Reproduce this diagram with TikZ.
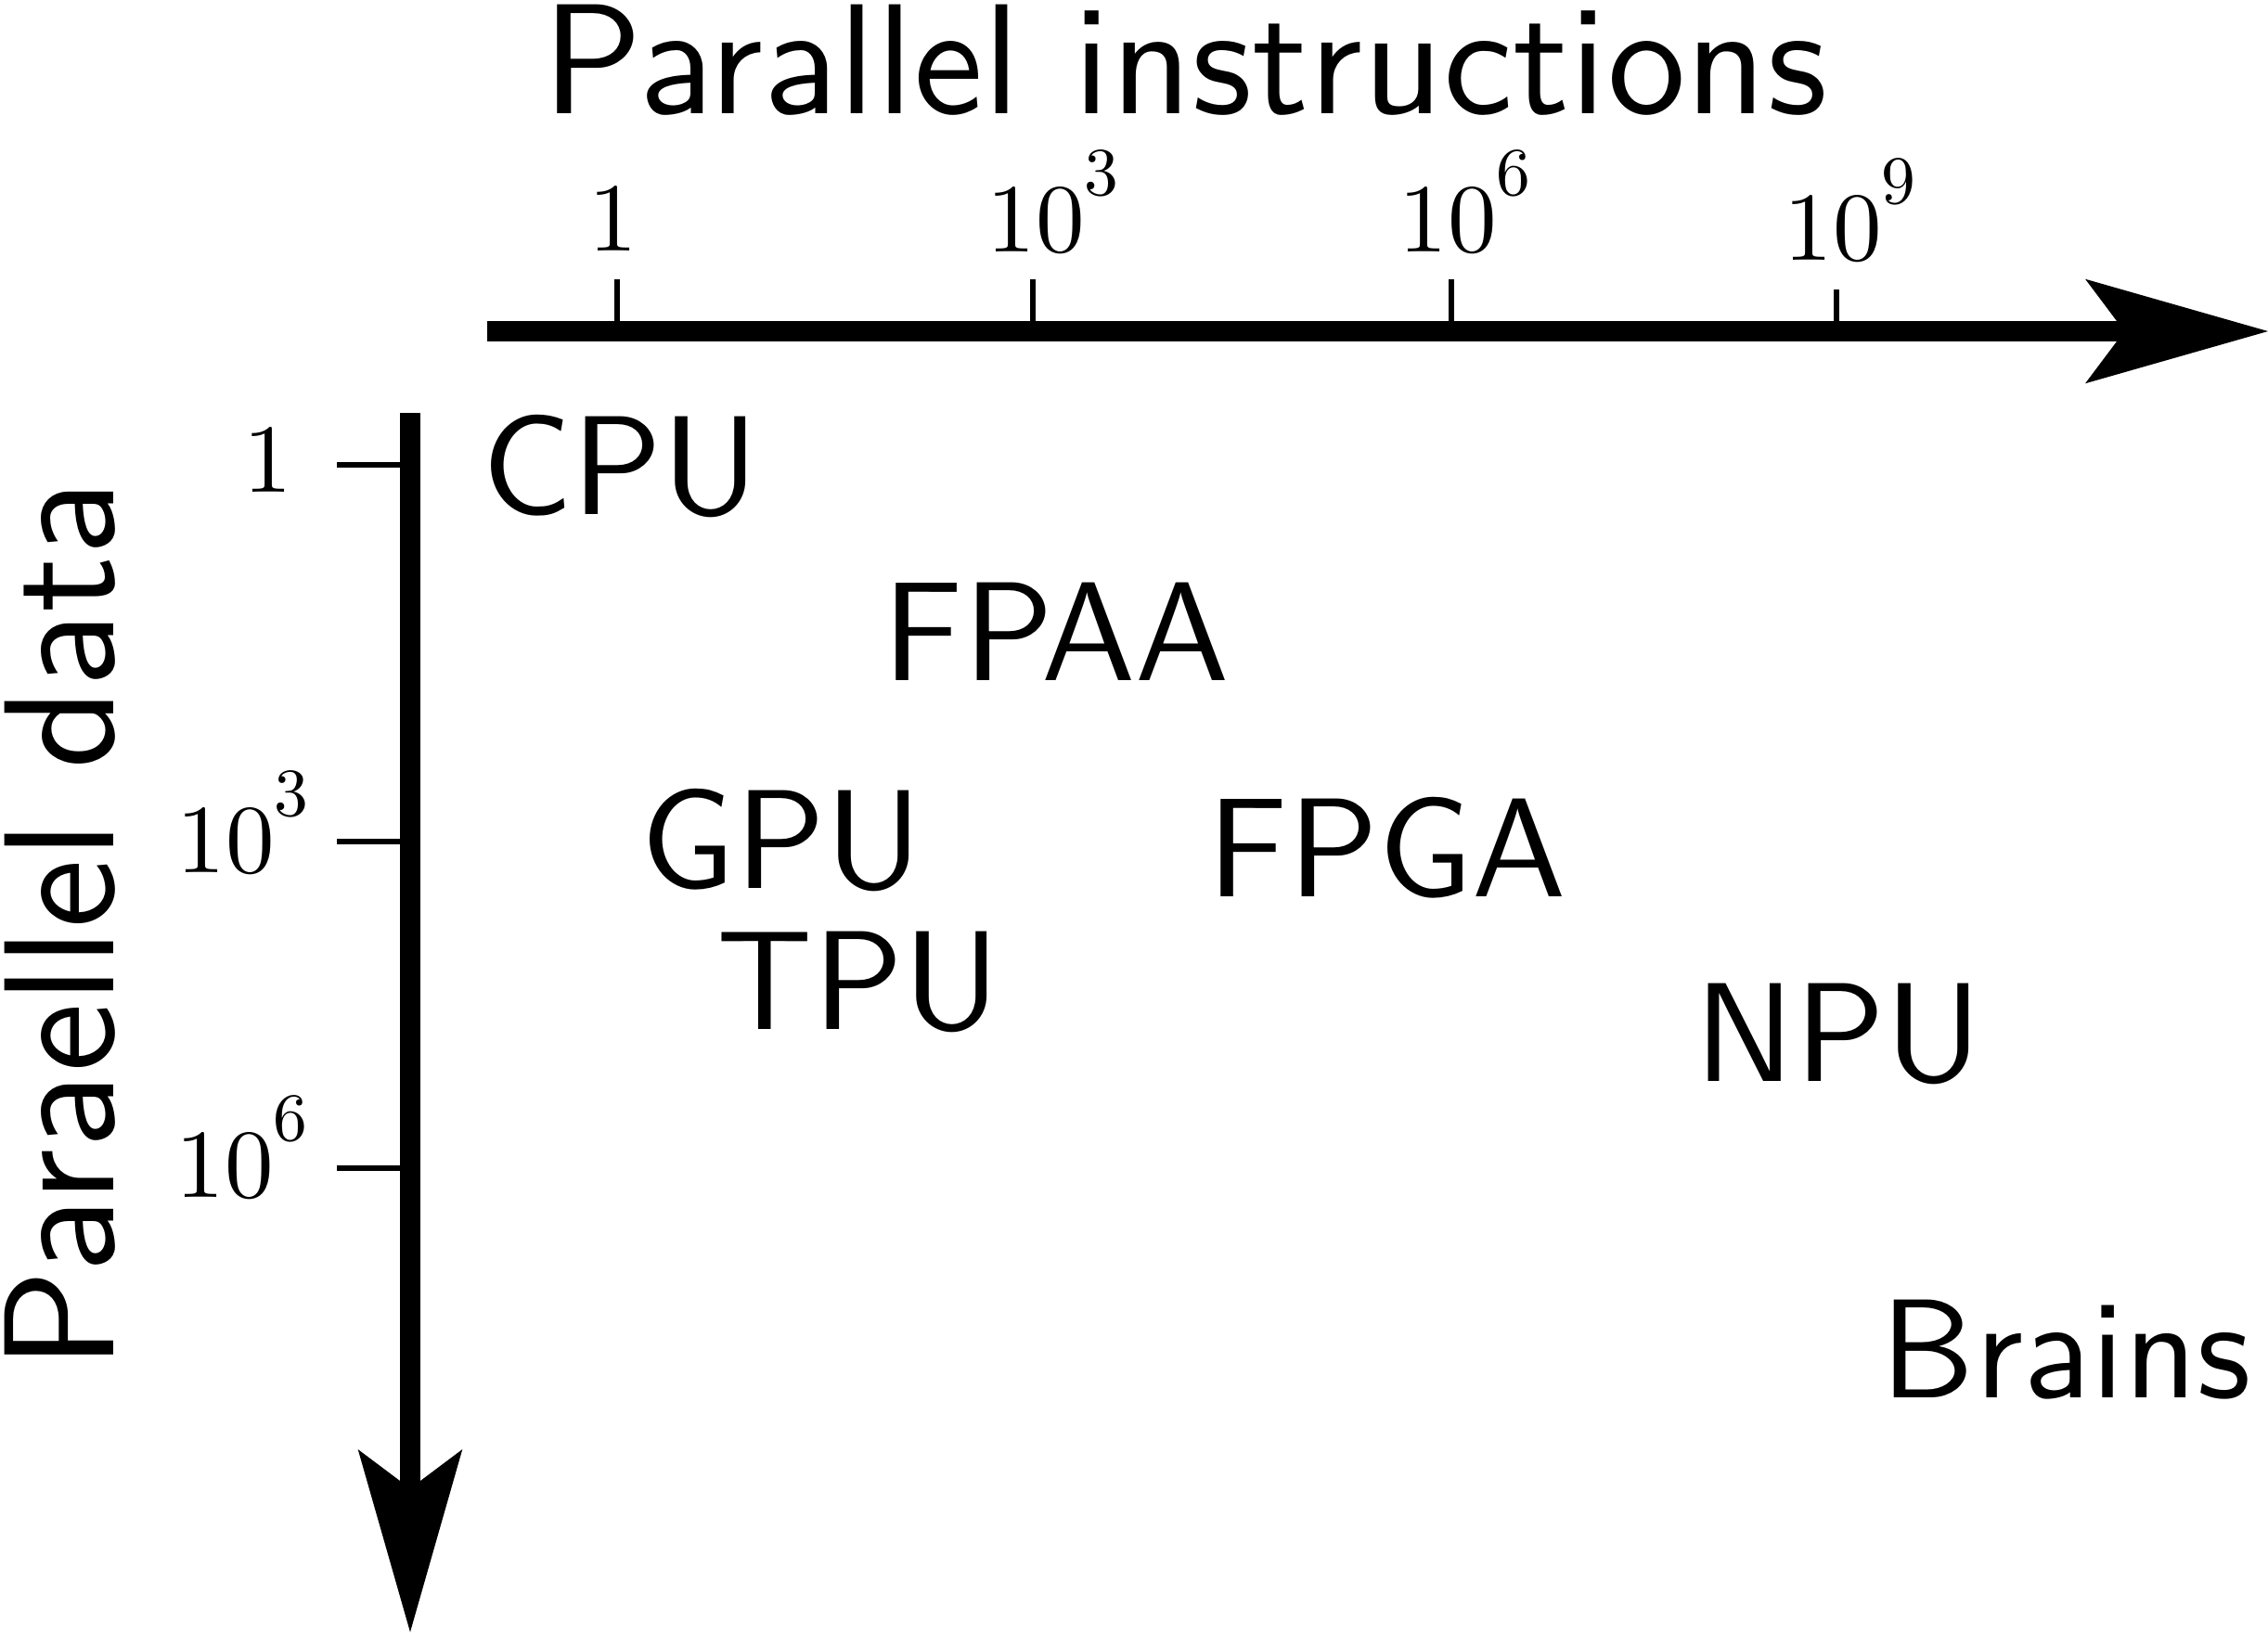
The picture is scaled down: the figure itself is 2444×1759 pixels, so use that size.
\documentclass[tikz,border=0pt]{standalone}
\usepackage{fontspec}
\setmainfont{lmroman10-regular.otf}
\setsansfont{lmsans10-regular.otf}
\usepackage{tikz}
\usetikzlibrary{arrows.meta}

\newcommand{\pw}[1]{10\raisebox{0.58em}{\fontsize{20.9}{24}\selectfont #1}}

\begin{document}
\begin{tikzpicture}[x=0.01cm,y=-0.01cm,
	axis/.style={line width=6.4pt,-{Stealth[length=56pt,width=32pt,inset=12pt,line width=0pt]}},
	tick/.style={line width=1.7pt},
	chip/.style={inner sep=0pt,anchor=base west,font=\fontsize{43.2}{52}\selectfont\sffamily},
	axtitle/.style={inner sep=0pt,font=\fontsize{48.1}{58}\selectfont\sffamily},
	num/.style={inner sep=0pt,anchor=base west,font=\fontsize{29.9}{36}\selectfont}]
	\useasboundingbox(0,0)rectangle(2444,1759);
	% axes
	\coordinate(xo)at(525,357);
	\coordinate(xe)at(2444,357);
	\coordinate(yo)at(442,445);
	\coordinate(ye)at(442,1759);
	\draw[axis](xo)--(xe);
	\draw[axis](yo)--(ye);
				\node[axtitle,anchor=base west](xtitle)at(584,122){Parallel instructions};
				\node[axtitle,anchor=base,rotate=90](ytitle)at(123,997){Paraellel data};
				
				\draw[tick](665,301)--(665,357);
				\draw[tick](1113,301)--(1113,357);
				\draw[tick](1564,301)--(1564,357);
				\draw[tick](1979,312)--(1979,357);
				\node[num](xl1)at(634,270){1};
				\node[num](xl3)at(1063,271){\pw{3}};
				\node[num](xl6)at(1507,271){\pw{6}};
				\node[num](xl9)at(1922,280){\pw{9}};
				
				\draw[tick](363,501)--(442,501);
				\draw[tick](363,907)--(442,907);
				\draw[tick](363,1259)--(442,1259);
				\node[num](yl1)at(262,530){1};
				\node[num](yl3)at(190,940){\pw{3}};
				\node[num](yl6)at(189,1290){\pw{6}};
				
				\node[chip](cpu)at(519,554){CPU};
				\node[chip](fpaa)at(951,733){FPAA};
				\node[chip](gpu)at(690,957){GPU};
				\node[chip](fpga)at(1301,966){FPGA};
				\node[chip](tpu)at(772,1109){TPU};
				\node[chip](npu)at(1826,1165){NPU};
				\node[chip](brains)at(2026,1506){Brains};
\end{tikzpicture}
\end{document}
